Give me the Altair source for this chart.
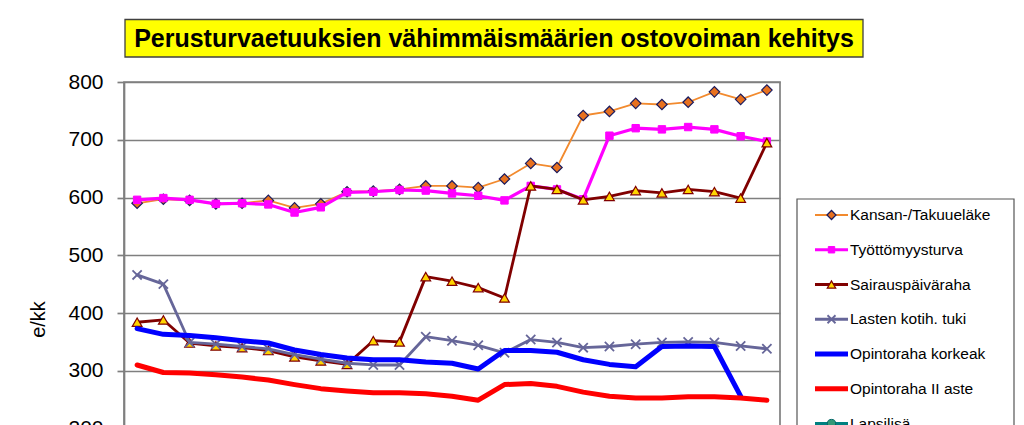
import altair as alt
import pandas as pd

# ---- data ----
years = [str(y) for y in range(1994, 2019)]
names = ["Kansan-/Takuueläke", "Työttömyysturva", "Sairauspäiväraha", "Lasten kotih. tuki",
         "Opintoraha korkeak", "Opintoraha II aste", "Lapsilisä"]
kansan = [590, 597, 595, 589, 590, 595, 582, 589, 610, 611, 614, 620, 620, 617, 632, 659, 652,
          742, 749, 763, 761, 765, 783, 770, 786]
tyott = [596, 599, 596, 589, 590, 588, 574, 583, 609, 610, 613, 612, 607, 603, 595, 620, 614,
         597, 707, 720, 718, 722, 718, 706, 697]
sairaus = [384, 388, 348, 343, 340, 335, 324, 317, 311, 352, 350, 463, 455, 444, 426, 620, 614,
           596, 602, 612, 608, 614, 610, 599, 695]
lasten = [466, 450, 349, 346, 342, 338, 328, 320, 313, 310, 310, 359, 352, 344, 331, 354, 349,
          340, 342, 346, 349, 350, 349, 343, 338]
korkeak = [373, 363, 361, 357, 352, 348, 336, 328, 322, 319, 319, 315, 313, 303, 335, 335, 332,
           319, 311, 307, 342, 343, 342, 256, None]
toinen = [310, 297, 296, 293, 289, 284, 276, 269, 265, 262, 262, 260, 256, 249, 276, 278, 273,
          263, 256, 253, 253, 255, 255, 253, 249]
lapsilisa = [128, 127, 118, 116, 115, 114, 112, 110, 108, 107, 106, 104, 103, 102, 100, 99, 103,
             101, 99, 97, 96, 95, 95, 94, 93]
series_values = [kansan, tyott, sairaus, lasten, korkeak, toinen, lapsilisa]
y_ticks = [0, 100, 200, 300, 400, 500, 600, 700, 800]
title_text = "Perusturvaetuuksien vähimmäismäärien ostovoiman kehitys"

# ---- styles ----
X_PATH = "M-1,-1L1,1M-1,1L1,-1"
styles = [
    dict(line="#F28A2E", lw=1.8, shape="diamond", fill="#E8711F", stroke="#1B1B5E", size=110, sw=1.2),
    dict(line="#FF00FF", lw=3.2, shape="square", fill="#FF00FF", stroke="#FF00FF", size=55, sw=1),
    dict(line="#800000", lw=2.8, shape="triangle-up", fill="#FFD400", stroke="#800000", size=95, sw=1.2),
    dict(line="#666699", lw=2.8, shape=X_PATH, fill=None, stroke="#666699", size=85, sw=1.8),
    dict(line="#0000FF", lw=5.0, shape=None),
    dict(line="#FF0000", lw=5.0, shape=None),
    dict(line="#008080", lw=3.0, shape="circle", fill="#339977", stroke="#006666", size=90, sw=1),
]

GRAY = "#7f7f7f"
FONT = "Liberation Sans"

x_enc = alt.X("year:O", scale=alt.Scale(type="point", padding=0.5),
              axis=alt.Axis(title=None, labels=False, ticks=True, grid=False,
                            domainColor=GRAY, tickColor=GRAY))
y_scale = alt.Scale(domain=[0, 800], nice=False, zero=False)
y_axis = alt.Axis(values=y_ticks, title="e/kk", titleFontSize=20, titleFontWeight="normal",
                  titleAngle=270, titleX=-85.5, titleY=237, titleAlign="center",
                  titleBaseline="middle", titleColor="black",
                  labelFontSize=21, labelColor="black", labelPadding=14, tickSize=7,
                  tickColor=GRAY, tickWidth=1.7, domainColor=GRAY, domainWidth=1.7,
                  gridColor=GRAY, gridWidth=1.7, grid=True)

main_layers = []
for i, (name, vals, st) in enumerate(zip(names, series_values, styles)):
    df = pd.DataFrame({"year": years, "value": vals, "series": name})
    base = alt.Chart(df)
    y_enc = alt.Y("value:Q", scale=y_scale, axis=y_axis)
    main_layers.append(base.mark_line(color=st["line"], strokeWidth=st["lw"], strokeJoin="round",
                                      strokeCap="round").encode(x=x_enc, y=y_enc))
    if st["shape"]:
        pt = dict(shape=st["shape"], size=st["size"], stroke=st["stroke"], strokeWidth=st["sw"],
                  opacity=1)
        if st["fill"]:
            pt.update(filled=True, fill=st["fill"])
        else:
            pt.update(filled=False, fill="transparent")
        main_layers.append(base.mark_point(**pt).encode(x=x_enc, y=y_enc))

main_group = alt.layer(*main_layers)

# ---- legend built from the series names ----
leg_df = pd.DataFrame({"name": names})
leg_y = alt.Y("name:N", scale=alt.Scale(type="point", domain=names, range=[133, 341.5], padding=0),
              axis=None)
one = pd.DataFrame({"t": [title_text]})
legend_layers = [
    alt.Chart(one).mark_rect(fill="white", stroke="#555555", strokeWidth=1.2).encode(
        x=alt.value(673), x2=alt.value(890), y=alt.value(117), y2=alt.value(560))
]
for name, st in zip(names, styles):
    d = alt.Chart(leg_df).transform_filter(alt.datum.name == name)
    legend_layers.append(d.mark_rule(color=st["line"], strokeWidth=st["lw"]).encode(
        x=alt.value(691), x2=alt.value(724), y=leg_y))
    if st["shape"]:
        pt = dict(shape=st["shape"], size=st["size"] * 0.75, stroke=st["stroke"],
                  strokeWidth=st["sw"], opacity=1)
        if st["fill"]:
            pt.update(filled=True, fill=st["fill"])
        else:
            pt.update(filled=False, fill="transparent")
        legend_layers.append(d.mark_point(**pt).encode(x=alt.value(707.5), y=leg_y))
    legend_layers.append(d.mark_text(align="left", baseline="middle", fontSize=15.5, font=FONT,
                                     color="black").encode(x=alt.value(726), y=leg_y,
                                                           text="name:N"))
legend_group = alt.layer(*legend_layers)

# ---- title box ----
title_box = alt.Chart(one).mark_rect(fill="#FFFF00", stroke="#404040", strokeWidth=1.3).encode(
    x=alt.value(1), x2=alt.value(739), y=alt.value(-62.5), y2=alt.value(-25))
title_txt = alt.Chart(one).mark_text(font=FONT, fontWeight="bold", fontSize=25, align="center",
                                     baseline="middle", color="black").encode(
    x=alt.value(370), y=alt.value(-43.5), text="t:N")

chart = alt.layer(title_box, title_txt, main_group, legend_group).resolve_scale(
    y="independent").properties(
    width=656, height=462,
    autosize=alt.AutoSizeParams(type="none"),
    padding={"left": 124, "top": 82, "right": 244, "bottom": 40},
).configure(font=FONT, background="white").configure_view(stroke=GRAY, strokeWidth=1.7)

chart.save("out.html", embed_options={"renderer": "svg", "actions": False})
